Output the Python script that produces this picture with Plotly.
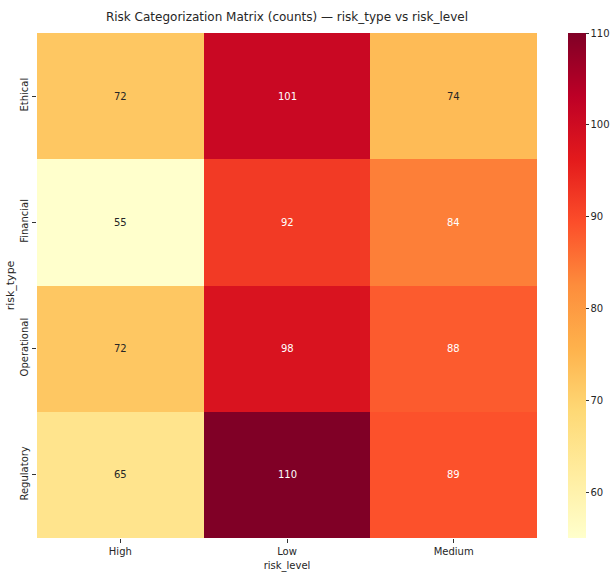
import plotly.graph_objects as go
import plotly.colors as pc

risk_levels = ["High", "Low", "Medium"]
risk_types = ["Ethical", "Financial", "Operational", "Regulatory"]
counts = [
    [72, 101, 74],
    [55, 92, 84],
    [72, 98, 88],
    [65, 110, 89],
]

zmin, zmax = 55, 110
scale = pc.sequential.YlOrRd
cscale = [[i / (len(scale) - 1), c] for i, c in enumerate(scale)]

FONT = "DejaVu Sans, sans-serif"

W, H = 611, 583
L, T = 37, 33
PW, PH = 500, 505


def rel_lum(rgb):
    vals = []
    for v in rgb:
        v = v / 255
        vals.append(v / 12.92 if v <= 0.03928 else ((v + 0.055) / 1.055) ** 2.4)
    return 0.2126 * vals[0] + 0.7152 * vals[1] + 0.0722 * vals[2]


fig = go.Figure(
    go.Heatmap(
        z=counts,
        x=risk_levels,
        y=risk_types,
        zmin=zmin,
        zmax=zmax,
        colorscale=cscale,
        hoverongaps=False,
        colorbar=dict(
            x=(568 - L) / PW,
            xanchor="left",
            xpad=0,
            ypad=0,
            y=0.5,
            yanchor="middle",
            len=1.0,
            lenmode="fraction",
            thickness=18,
            outlinewidth=0,
            ticks="outside",
            ticklen=3,
            tickcolor="#333333",
            tickvals=[60, 70, 80, 90, 100, 110],
            tickfont=dict(family=FONT, size=10, color="#262626"),
        ),
    )
)

annotations = []
for i, rt in enumerate(risk_types):
    for j, rl in enumerate(risk_levels):
        v = counts[i][j]
        frac = (v - zmin) / (zmax - zmin)
        col = pc.sample_colorscale(cscale, [frac], colortype="tuple")[0]
        rgb = [c * 255 if c <= 1 else c for c in col]
        txtcol = "#262626" if rel_lum(rgb) > 0.408 else "white"
        annotations.append(
            dict(
                x=rl, y=rt, text=str(v), showarrow=False,
                font=dict(family=FONT, size=10, color=txtcol),
            )
        )

fig.update_layout(
    width=W,
    height=H,
    margin=dict(l=L, r=W - L - PW, t=T, b=H - T - PH, autoexpand=False),
    paper_bgcolor="white",
    plot_bgcolor="white",
    title=dict(
        text="Risk Categorization Matrix (counts) — risk_type vs risk_level",
        x=(L + PW / 2) / W,
        xanchor="center",
        y=1 - 17 / H,
        yanchor="middle",
        font=dict(family=FONT, size=12, color="#262626"),
    ),
    xaxis=dict(
        title=dict(text="risk_level", font=dict(family=FONT, size=10, color="#262626"), standoff=5),
        tickfont=dict(family=FONT, size=10, color="#262626"),
        ticks="outside",
        ticklen=4,
        tickcolor="#333333",
        showgrid=False,
        zeroline=False,
        showline=False,
        automargin=False,
    ),
    yaxis=dict(
        title=dict(text="risk_type", font=dict(family=FONT, size=11, color="#262626"), standoff=2),
        tickfont=dict(family=FONT, size=10, color="#262626"),
        tickangle=-90,
        ticks="outside",
        ticklen=4,
        tickcolor="#333333",
        autorange="reversed",
        showgrid=False,
        zeroline=False,
        showline=False,
        automargin=False,
    ),
    annotations=annotations,
)

fig.write_html(
    "out.html",
    config={"displayModeBar": False},
    post_script="document.body.style.margin='0';document.body.style.overflow='hidden';",
)
